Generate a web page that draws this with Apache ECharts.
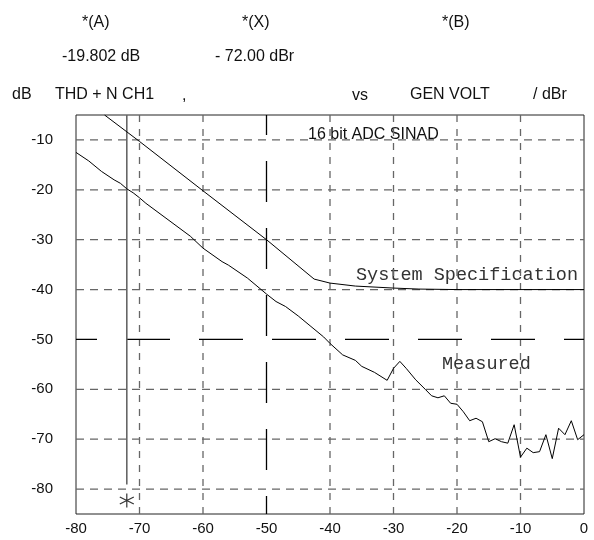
<!DOCTYPE html>
<html>
<head>
<meta charset="utf-8">
<script src="https://cdn.jsdelivr.net/npm/echarts@6/dist/echarts.min.js"></script>
<style>
  html, body { margin: 0; padding: 0; background: #fff; }
  #main { width: 594px; height: 540px; }
</style>
</head>
<body>
<div id="main"></div>
<script>
// values (dBr -> dB)
var measuredX = [-80, -78, -76, -74, -73, -72, -71, -70, -69, -62, -60, -57, -56, -53, -50, -48.5, -47, -45, -43, -41,
                 -40, -38, -36, -35, -33, -31, -30, -29, -28, -26.5, -25, -24, -23, -22, -21, -20, -19, -18, -17, -16,
                 -15, -14, -13, -12, -11, -10, -9, -8, -7, -6, -5, -4, -3, -2, -1, 0];
var measuredY = [-12.5, -14.2, -16.3, -18.0, -18.7, -19.8, -20.6, -21.6, -22.7, -29.3, -31.7, -34.4, -35.1, -37.7, -40.9, -42.4, -43.4, -45.3, -47.4, -49.5,
                 -50.8, -53.1, -54.2, -55.4, -56.6, -58.2, -55.8, -54.4, -55.8, -58.1, -60.0, -61.3, -61.7, -61.3, -62.8, -63.0, -64.5, -66.3, -65.8, -66.5,
                 -70.5, -69.9, -70.5, -70.8, -67.1, -73.6, -71.8, -72.7, -72.5, -69.1, -73.9, -67.8, -69.1, -66.3, -70.1, -69.1];

var specX = [-75.5, -70, -60, -50, -42.5, -40, -36, -30, -26, -20, 0];
var specY = [-5, -10.3, -20.2, -30, -37.9, -38.7, -39.3, -39.7, -39.9, -40, -40];

var xTicks = [-80, -70, -60, -50, -40, -30, -20, -10, 0];
var yTicks = [-10, -20, -30, -40, -50, -60, -70, -80];
var gridX = [-70, -60, -40, -30, -20, -10];   // short dash grid
var gridY = [-80, -70, -60, -40, -30, -20, -10];
var refX = -50, refY = -50;                    // long dash reference lines
var cursorX = -72, cursorY = -82.3;

var xMin = -80, xMax = 0, yMin = -85, yMax = -5;

function zip(a, b) {
    var out = [];
    for (var i = 0; i < a.length; i++) out.push([a[i], b[i]]);
    return out;
}

var sans = '"Liberation Sans", Arial, sans-serif';
var mono = '"Courier New", "Liberation Mono", monospace';

var series = [];

gridX.forEach(function (x) {
    series.push({
        type: 'line', silent: true, symbol: 'none', z: 1,
        data: [[x, yMax], [x, yMin]],
        lineStyle: { color: '#666', width: 1.3, type: [7, 7] }
    });
});
gridY.forEach(function (y) {
    series.push({
        type: 'line', silent: true, symbol: 'none', z: 1,
        data: [[xMin, y], [xMax, y]],
        lineStyle: { color: '#666', width: 1.3, type: [8, 6] }
    });
});

// long dash lines at -50
series.push({
    type: 'line', silent: true, symbol: 'none', z: 2,
    data: [[refX, yMax], [refX, yMin]],
    lineStyle: { color: '#000', width: 1.3, type: [41, 26], dashOffset: 21 }
});
series.push({
    type: 'line', silent: true, symbol: 'none', z: 2,
    data: [[xMin, refY], [xMax, refY]],
    lineStyle: { color: '#000', width: 1.3, type: [44, 29], dashOffset: 23 }
});

// cursor
series.push({
    type: 'line', silent: true, symbol: 'none', z: 3,
    data: [[cursorX, yMax], [cursorX, -79.1]],
    lineStyle: { color: '#666', width: 1.6 }
});
series.push({
    type: 'scatter', silent: true, z: 4,
    data: [[cursorX, cursorY]],
    symbol: 'path://M0,-10L0,10M-8.66,-5L8.66,5M-8.66,5L8.66,-5',
    symbolSize: 14,
    itemStyle: { color: 'none', borderColor: '#000', borderWidth: 1.2 }
});

series.push({
    name: 'System Specification', type: 'line', symbol: 'none', z: 5,
    data: zip(specX, specY),
    lineStyle: { color: '#000', width: 1 }
});
series.push({
    name: 'Measured', type: 'line', symbol: 'none', z: 5,
    data: zip(measuredX, measuredY),
    lineStyle: { color: '#000', width: 1 }
});

function txt(s, x, y, font, color) {
    return {
        type: 'text', x: x, y: y, silent: true,
        style: { text: s, font: font, fill: color || '#111', textAlign: 'left', textVerticalAlign: 'middle' }
    };
}

var myChart = echarts.init(document.getElementById('main'));
var option = {
    backgroundColor: '#fff',
    animation: false,
    grid: { left: 76, right: 10, top: 115, bottom: 26, show: true, borderColor: '#222', borderWidth: 1 },
    xAxis: {
        type: 'value', min: xMin, max: xMax, interval: 10,
        axisLine: { show: false }, axisTick: { show: false }, splitLine: { show: false },
        axisLabel: { fontSize: 15, color: '#111', fontFamily: sans, margin: 7,
            formatter: function (v) { return xTicks.indexOf(v) >= 0 ? v : ''; } }
    },
    yAxis: {
        type: 'value', min: yMin, max: yMax, interval: 5,
        axisLine: { show: false }, axisTick: { show: false }, splitLine: { show: false },
        axisLabel: { fontSize: 15, color: '#111', fontFamily: sans, margin: 23,
            formatter: function (v) { return yTicks.indexOf(v) >= 0 ? v : ''; } }
    },
    graphic: [
        txt('*(A)', 82, 23, '16px ' + sans),
        txt('*(X)', 242, 23, '16px ' + sans),
        txt('*(B)', 442, 23, '16px ' + sans),
        txt('-19.802 dB', 62, 57, '16px ' + sans),
        txt('- 72.00 dBr', 215, 57, '16px ' + sans),
        txt('dB', 12, 95, '16px ' + sans),
        txt('THD + N CH1', 55, 95, '16px ' + sans),
        txt(',', 182, 96, '16px ' + sans),
        txt('vs', 352, 96, '16px ' + sans),
        txt('GEN VOLT', 410, 95, '16px ' + sans),
        txt('/ dBr', 533, 95, '16px ' + sans),
        txt('16 bit ADC SINAD', 308, 135, '16px ' + sans),
        txt('System Specification', 356, 275, '18.5px ' + mono, '#333'),
        txt('Measured', 442, 364, '18.5px ' + mono, '#333')
    ],
    series: series
};
myChart.setOption(option);
</script>
</body>
</html>
